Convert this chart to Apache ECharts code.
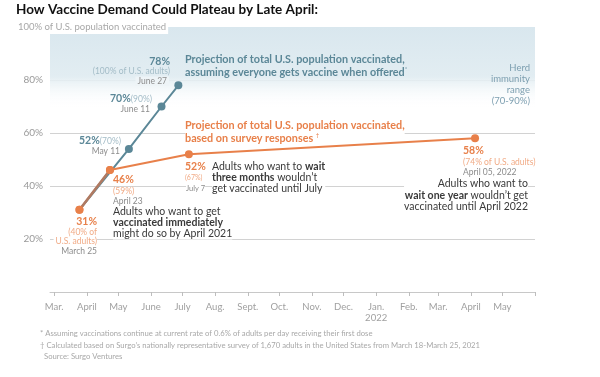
<!DOCTYPE html>
<html>
<head>
<meta charset="utf-8">
<script src="https://cdn.jsdelivr.net/npm/echarts@6/dist/echarts.min.js"></script>
<style>
    html, body { margin: 0; padding: 0; background: #fff; }
    #chart { width: 600px; height: 377px; }
</style>
</head>
<body>
<div id="chart"></div>
<script>
// data
const blueDates = ["2021-03-25", "2021-05-11", "2021-06-11", "2021-06-27"];
const blueValues = [31, 54, 70, 78];
const orangeDates = ["2021-03-25", "2021-04-23", "2021-07-07", "2022-04-05"];
const orangeValues = [31, 46, 52, 58];
const herdBand = [69, 100];
const xTickLabels = ["Mar.", "April", "May", "June", "July", "Aug.", "Sept.", "Oct.", "Nov.", "Dec.", "Jan.\n2022", "Feb.", "Mar.", "April", "May"];

const FONT = "Lato";
const BLUE = "#5b8797";
const BLUE_LIGHT = "#a3bcc7";
const ORANGE = "#e8804a";
const ORANGE_LIGHT = "#f1ab86";
const GREY = "#8c8c8c";
const DARK = "#3a3a3a";

let myChart = echarts.init(document.getElementById("chart"));

function txt(x, y, text, opts, z) {
    return {
        type: "text",
        x: x,
        y: y,
        z: z === undefined ? 100 : z,
        style: Object.assign({
            text: text,
            fontFamily: FONT,
            fontSize: 10,
            fill: DARK,
            textAlign: "left",
            textVerticalAlign: "middle"
        }, opts || {})
    };
}

let bold = { fontFamily: FONT, fontWeight: "bold", fontSize: 10.5, fill: DARK };
let pair = (d, v) => d.map((x, i) => [x, v[i]]);

let option = {
    animation: false,
    grid: { left: 50, right: 65, top: 27, bottom: 85 },
    xAxis: {
        type: "time",
        min: +new Date(2021, 1, 25),
        max: +new Date(2022, 5, 1),
        splitNumber: 15,
        minInterval: 28 * 864e5,
        maxInterval: 31 * 864e5,
        axisLine: { lineStyle: { color: "#c8c8c8", width: 1 } },
        axisTick: { show: true, length: 4, lineStyle: { color: "#bdbdbd" } },
        splitLine: { show: false },
        axisLabel: {
            showMinLabel: false,
            showMaxLabel: false,
            margin: 9,
            color: "#a0a0a0",
            fontFamily: FONT,
            fontSize: 9.5,
            lineHeight: 11,
            formatter: function(value) {
                let d = new Date(value);
                let idx = (d.getFullYear() - 2021) * 12 + d.getMonth() - 2;
                return xTickLabels[idx] || "";
            }
        }
    },
    yAxis: {
        type: "value",
        min: 0,
        max: 100,
        interval: 20,
        axisLine: { show: false },
        axisTick: { show: false },
        splitLine: { lineStyle: { color: "#d2d2d2", width: 1 } },
        axisLabel: {
            margin: 7,
            color: "#9a9a9a",
            fontFamily: FONT,
            fontSize: 10,
            formatter: function(v) {
                return v === 0 || v === 100 ? "" : v + "%";
            }
        }
    },
    series: [
        {
            name: "everyone",
            type: "line",
            z: 2,
            data: pair(blueDates, blueValues),
            symbol: "circle",
            symbolSize: (v, p) => (p.dataIndex === 0 ? 0 : 8),
            lineStyle: { color: BLUE, width: 2 },
            itemStyle: { color: BLUE },
            markArea: {
                silent: true,
                itemStyle: {
                    color: new echarts.graphic.LinearGradient(0, 0, 0, 1, [
                        { offset: 0, color: "#d9e7ee" },
                        { offset: 0.6, color: "#e2edf2" },
                        { offset: 1, color: "rgba(255,255,255,0)" }
                    ])
                },
                data: [[{ yAxis: herdBand[1] }, { yAxis: herdBand[0] }]]
            }
        },
        {
            name: "survey",
            type: "line",
            z: 3,
            data: pair(orangeDates, orangeValues),
            symbol: "circle",
            symbolSize: 8,
            lineStyle: { color: ORANGE, width: 2 },
            itemStyle: { color: ORANGE }
        },
        {
            // where both projections run together
            name: "overlap",
            type: "line",
            z: 4,
            data: pair(orangeDates.slice(0, 2), orangeValues.slice(0, 2)),
            symbol: "circle",
            symbolSize: 8,
            lineStyle: { color: "#ae7a63", width: 2.5 },
            itemStyle: { color: ORANGE }
        }
    ],
    graphic: [
        txt(16, 10, "How Vaccine Demand Could Plateau by Late April:", { fontSize: 13.5, fontWeight: "bold", fill: "#111" }),
        txt(18, 27, "100% of U.S. population vaccinated", { fontSize: 9.5, fill: "#a8a8a8", backgroundColor: "#fff", padding: [2, 2, 2, 0] }),

        // blue projection
        txt(185, 66.5, "Projection of total U.S. population vaccinated,\nassuming everyone gets vaccine when offered{s|*}", {
            fontSize: 10.8, fontWeight: "bold", fill: BLUE, lineHeight: 13,
            rich: { s: { fontFamily: FONT, fontSize: 6, fill: BLUE, verticalAlign: "top", padding: [0, 0, 4, 0] } }
        }),
        txt(170, 62, "78%", { textAlign: "right", fontWeight: "bold", fill: BLUE, fontSize: 10.5 }),
        txt(170, 71.5, "(100% of U.S. adults)", { textAlign: "right", fill: BLUE_LIGHT, fontSize: 8.5 }),
        txt(169, 81, "June 27", { textAlign: "right", fill: GREY, fontSize: 8.5, backgroundColor: "#eef4f7", padding: [0, 2] }),
        txt(152, 99, "{b|70%}{l|(90%)}", { textAlign: "right", rich: { b: { fontFamily: FONT, fontWeight: "bold", fill: BLUE, fontSize: 10.5 }, l: { fontFamily: FONT, fill: BLUE_LIGHT, fontSize: 8.5 } } }),
        txt(150, 109, "June 11", { textAlign: "right", fill: GREY, fontSize: 8.5 }),
        txt(121, 141, "{b|52%}{l|(70%)}", { textAlign: "right", rich: { b: { fontFamily: FONT, fontWeight: "bold", fill: BLUE, fontSize: 10.5 }, l: { fontFamily: FONT, fill: BLUE_LIGHT, fontSize: 8.5 } } }),
        txt(120, 151, "May 11", { textAlign: "right", fill: GREY, fontSize: 8.5 }),

        // herd immunity
        txt(530, 84.5, "Herd\nimmunity\nrange\n(70-90%)", { textAlign: "right", fill: "#7d9fb0", fontSize: 9.5, lineHeight: 11 }),

        // orange projection: kept under the lines so the survey line stays visible
        txt(185, 132.5, "Projection of total U.S. population vaccinated,\nbased on survey responses {s|\u2020}", {
            fontSize: 10.8, fontWeight: "bold", fill: ORANGE, lineHeight: 13, backgroundColor: "#fff",
            rich: { s: { fontFamily: FONT, fontSize: 6, fill: ORANGE, verticalAlign: "top", padding: [0, 0, 4, 0] } }
        }, 1),
        txt(97, 222, "31%", { textAlign: "right", fontWeight: "bold", fill: ORANGE, fontSize: 10.5 }),
        txt(97, 232, "(40% of", { textAlign: "right", fill: ORANGE_LIGHT, fontSize: 8.5 }),
        txt(97, 241.5, "U.S. adults)", { textAlign: "right", fill: ORANGE_LIGHT, fontSize: 8.5, backgroundColor: "#fff", padding: [0, 0, 0, 2] }),
        txt(97, 251, "March 25", { textAlign: "right", fill: GREY, fontSize: 8.5 }),
        txt(113, 180, "46%", { fontWeight: "bold", fill: ORANGE, fontSize: 10.5, backgroundColor: "#fff" }),
        txt(113, 191, "(59%)", { fill: ORANGE_LIGHT, fontSize: 8.5 }),
        txt(113, 201.5, "April 23", { fill: GREY, fontSize: 8.5 }),
        txt(113, 223, "Adults who want to get\n{b|vaccinated immediately}\nmight do so by April 2021", { fontSize: 10.5, lineHeight: 11, fill: DARK, backgroundColor: "#fff", rich: { b: bold } }),
        txt(185, 167, "52%", { fontWeight: "bold", fill: ORANGE, fontSize: 10.5 }),
        txt(185, 178, "(67%)", { fill: ORANGE_LIGHT, fontSize: 7 }),
        txt(186, 189, "July 7", { fill: GREY, fontSize: 7.5, backgroundColor: "#fff" }),
        txt(212, 178, "Adults who want to {b|wait}\n{b|three months} wouldn\u2019t\nget vaccinated until July", { fontSize: 10.5, lineHeight: 11, fill: DARK, backgroundColor: "#fff", rich: { b: bold } }),
        txt(463, 151, "58%", { fontWeight: "bold", fill: ORANGE, fontSize: 10.5 }),
        txt(463, 162, "(74% of U.S. adults)", { fill: ORANGE_LIGHT, fontSize: 8.5 }),
        txt(463, 172, "April 05, 2022", { fill: GREY, fontSize: 8.5 }),
        txt(528, 195.5, "Adults who want to\n{b|wait one year} wouldn\u2019t get\nvaccinated until April 2022", { textAlign: "right", fontSize: 10.5, lineHeight: 11.5, fill: DARK, backgroundColor: "#fff", rich: { b: bold } }),

        // notes
        txt(40, 334, "* Assuming vaccinations continue at current rate of 0.6% of adults per day receiving their first dose", { fontSize: 7.7, fill: "#a8a8a8" }),
        txt(40, 346, "\u2020 Calculated based on Surgo\u2019s nationally representative survey of 1,670 adults in the United States from March 18-March 25, 2021", { fontSize: 7.7, fill: "#a8a8a8" }),
        txt(44, 357, "Source: Surgo Ventures", { fontSize: 7.7, fill: "#a8a8a8" })
    ]
};

myChart.setOption(option);
window.addEventListener("resize", myChart.resize);
</script>
</body>
</html>
